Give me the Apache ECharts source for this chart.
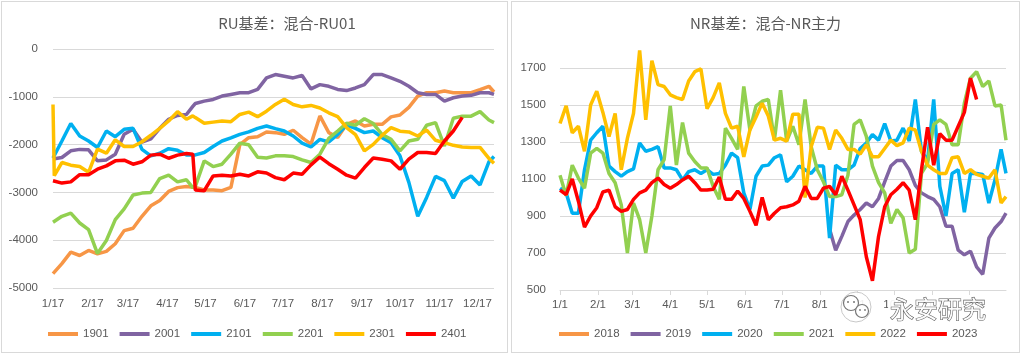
<!DOCTYPE html>
<html>
<head>
<meta charset="utf-8">
<script src="https://cdn.jsdelivr.net/npm/echarts@6/dist/echarts.min.js"></script>
<style>
  body { margin: 0; background: #fff; }
  .panel { position: absolute; top: 1px; height: 350px; border: 1px solid #d9d9d9; background: #fff; }
  #ru { left: 1px; width: 505px; }
  #nr { left: 511px; width: 507px; }
</style>
</head>
<body>
<div id="ru" class="panel"></div>
<div id="nr" class="panel"></div>
<script>
// ---- RU basis: days counted from 1/17 ----
var ruDays = [0, 1, 7, 14, 21, 28, 35, 42, 49, 56, 63, 70, 77, 84, 91, 98, 105, 110, 112, 119, 126, 133, 140, 147, 154, 161,
  168, 175, 182, 189, 196, 203, 210, 217, 224, 231, 238, 245, 252, 259, 266, 273, 280, 287, 294, 301, 308, 315, 322, 329, 336, 343, 347];
var ruTicks = [0, 31, 59, 90, 120, 151, 181, 212, 243, 273, 304, 334];
var ruTickLabels = ['1/17', '2/17', '3/17', '4/17', '5/17', '6/17', '7/17', '8/17', '9/17', '10/17', '11/17', '12/17'];
var ruNames = ['1901', '2001', '2101', '2201', '2301', '2401'];

var ru1901 = [-4700, null, -4490, -4250, -4320, -4215, -4285, -4235, -4075, -3800, -3750, -3500, -3280, -3170, -2980, -2900, -2875, -2890,
  -2895, -2950, -2950, -2965, -2895, -2000, -1855, -1835, -1735, -1750, -1785, -1700, -1855, -1990, -1400, -1750, -1850, -1575, -1505,
  -1610, -1575, -1575, -1420, -1380, -1220, -985, -915, -915, -880, -915, -915, -915, -850, -780, -900];
var ru2001 = [-2300, null, -2270, -2130, -2100, -2110, -2340, -2320, -2200, -1785, -1680, -1950, -1880, -1660, -1470, -1390, -1370, -1200,
  -1140, -1090, -1055, -985, -950, -915, -915, -845, -605, -535, -570, -605, -555, -835, -745, -780, -845, -870, -815, -745, -535, -535,
  -605, -675, -780, -915, -950, -950, -1090, -1020, -985, -970, -915, -915, -950];
var ru2101 = [-2280, null, -1925, -1560, -1820, -1925, -2060, -1715, -1835, -1680, -1660, -2100, -2235, -2180, -2085, -2120, -2215, null,
  -2215, -2165, -2040, -1925, -1860, -1785, -1735, -1660, -1610, -1665, -1715, -1820, -1970, -2050, -1890, -1945, -1785, -1590, -1660,
  -1750, -1715, -1855, -1960, -2235, -2790, -3500, -3105, -2665, -2755, -3120, -2770, -2655, -2845, -2360, -2250];
var ru2201 = [-3625, null, -3500, -3435, -3640, -3780, -4280, -4005, -3570, -3345, -3055, -3015, -3000, -2710, -2640, -2780, -2735, -2900,
  -2875, -2340, -2460, -2410, -2200, -1970, -2005, -2265, -2280, -2235, -2235, -2250, -2320, -2375, -2200, -1870, -1715, -1555, -1595,
  -1460, -1560, -1790, -1890, -2130, -1925, -1890, -1595, -1540, -2030, -1450, -1405, -1405, -1310, -1485, -1540];
var ru2301 = [-1160, -2650, -2375, -2430, -2460, -2580, -2095, -2180, -1900, -2040, -2040, -1940, -1805, -1660, -1505, -1310, -1470, -1400,
  -1435, -1555, -1530, -1505, -1520, -1370, -1320, -1415, -1300, -1160, -1050, -1160, -1210, -1180, -1235, -1335, -1415, -1645, -1790,
  -2130, -1995, -1805, -1645, -1720, -1735, -1820, -1695, -1910, -1960, -2015, -2050, -2060, -2060, -2290, -2390];
var ru2401 = [-2755, null, -2805, -2780, -2630, -2630, -2515, -2445, -2340, -2325, -2410, -2360, -2220, -2200, -2285, -2220, -2185, -2200,
  -2950, -2965, -2655, -2640, -2655, -2620, -2655, -2570, -2595, -2690, -2735, -2595, -2620, -2425, -2260, -2400, -2515, -2640, -2700,
  -2480, -2280, -2305, -2340, -2515, -2305, -2165, -2165, -2185, -1925, -1715, -1430];

// ---- NR basis: days counted from 1/1 ----
var nrDays = [0, 5, 10, 15, 20, 25, 30, 35, 40, 45, 50, 55, 60, 65, 70, 75, 80, 85, 90, 95, 100, 105, 110, 115, 120, 125, 130, 135,
  140, 145, 150, 155, 160, 165, 170, 175, 180, 185, 190, 195, 200, 205, 210, 215, 220, 225, 230, 235, 240, 245, 250, 255, 260, 265,
  270, 275, 280, 285, 290, 295, 300, 305, 310, 315, 320, 325, 330, 335, 340, 345, 350, 355, 360, 364];
var nrTicks = [0, 31, 59, 90, 120, 151, 181, 212, 243, 273, 304, 334];
var nrTickLabels = ['1/1', '2/1', '3/1', '4/1', '5/1', '6/1', '7/1', '8/1', '9/1', '10/1', '11/1', '12/1'];
var nrNames = ['2018', '2019', '2020', '2021', '2022', '2023'];

var nr2018 = [];
var nr2019 = [null, null, null, null, null, null, null, null, null, null, null, null, null, null, null, null, null, null, null, null,
  null, null, null, null, null, null, null, null, null, null, null, null, null, null, null, null, null, null, null, null, null, null,
  null, null, 830, 715, 790, 870, 905, 935, 970, 950, 995, 1085, 1170, 1200, 1200, 1150, 1065, 1025, 1005, 990, 950, 845, 845, 715, 690,
  710, 625, 585, 780, 835, 870, 915];
var nr2020 = [1050, 1025, 915, 915, 1150, 1310, 1350, 1385, 1170, 1140, 1115, 1140, 1155, 1295, 1250, 1260, 1275, 1160, 1160, 1150,
  1095, 1140, 1150, 1130, 1150, 1125, 1130, 1175, 1240, 1215, 1025, 935, 1115, 1170, 1175, 1215, 1230, 1085, 1115, 1170,
  1150, 1130, 1170, 1170, 780, 1175, 1150, 1150, 1175, 1265, 1295, 1340, 1310, 1400, 1305, 1310, 1375, 1305, 1530, 1250,
  1200, 1530, 1060, 900, 1130, 1150, 920, 1130, 1130, 1125, 970, 1095, 1260, 1130];
var nr2021 = [1120, 1010, 1175, 1105, 1050, 1240, 1265, 1240, 1130, 1080, 960, 700, 970, 880, 700, 900, 1150, 1205, 1495, 1175,
  1405, 1240, 1195, 1160, 1160, 1060, 990, 1375, 1320, 1260, 1600, 1365, 1495, 1520, 1530, 1310, 1580, 1305, 1385, 1285,
  1530, 1275, 1150, 1085, 1005, 1005, 1015, 1120, 1395, 1420, 1330, 1170, 1080, 1025, 860, 935, 890, 700, 720, 1130,
  1185, 1395, 1420, 1395, 1285, 1285, 1510, 1645, 1680, 1600, 1630, 1495, 1500, 1310];
var nr2022 = [1400, 1495, 1350, 1385, 1250, 1500, 1575, 1460, 1330, 1455, 1150, 1320, 1455, 1795, 1420, 1740, 1610, 1600, 1555, 1540,
  1530, 1630, 1680, 1695, 1480, 1540, 1620, 1455, 1375, 1385, 1220, 1365, 1435, 1510, 1440, 1310, 1320, 1305, 1450, 1450,
  1000, 1275, 1380, 1375, 1260, 1365, 1320, 1260, 1260, 1235, 1285, 1220, 1220, 1265, 1310, 1280, 1295, 1375, 1365, 1250,
  1175, 1150, 1130, 1130, 1215, 1220, 1130, 1150, 1125, 1115, 1105, 1150, 970, 1005];
var nr2023 = [1040, 1015, 1100, 980, 840, 900, 945, 1030, 1040, 950, 925, 935, 990, 1025, 1040, 1080, 1105, 1070, 1050, 1070,
  1095, 1115, 1080, 1040, 1040, 1045, 1110, 990, 990, 1035, 995, 925, 850, 1000, 880, 915, 945, 950, 960, 980,
  1060, 995, 995, 1050, 1060, 1015, 1115, 1040, 960, 880, 680, 550, 790, 950, 1015, 1045, 1080, 1040, 880, 1150,
  1380, 1175, 1345, 1310, 1310, 1385, 1460, 1645, 1530];

var colors = ['#F79646', '#8064A2', '#00B0F0', '#92D050', '#FFC000', '#FF0000'];
var txt = '#595959';
var gridCol = '#d9d9d9';
var fontNum = 'Liberation Sans, Arial, sans-serif';
var fontCjk = 'Noto Sans CJK SC, sans-serif';

// 把日期和数值配成点, 空值跳过
function toPairs(days, vals) {
  var out = [];
  for (var i = 0; i < days.length; i++) {
    if (vals[i] != null) out.push([days[i], vals[i]]);
  }
  return out;
}

function makeSeries(names, days, list) {
  return names.map(function (n, k) {
    return {
      name: n, type: 'line', data: toPairs(days, list[k]),
      showSymbol: false, symbol: 'none', clip: false,
      lineStyle: { width: 3.5, color: colors[k] },
      itemStyle: { color: colors[k] }
    };
  });
}

function legendOpt(names, left) {
  return {
    data: names, left: left, top: 326, padding: 0, icon: 'rect', itemWidth: 30, itemHeight: 4, itemGap: 11,
    textStyle: { color: txt, fontSize: 11.5, fontFamily: fontNum }
  };
}

function plainNum(v) { return String(v); }

// ---- 左图 ----
var ruChart = echarts.init(document.getElementById('ru'));
ruChart.setOption({
  animation: false,
  color: colors,
  title: {
    text: 'RU基差：混合-RU01', left: 285, top: 14, textAlign: 'center', padding: 0,
    textStyle: { color: txt, fontSize: 15, fontWeight: 'normal', fontFamily: fontCjk }
  },
  legend: legendOpt(ruNames, 46),
  grid: { left: 51, right: 13, top: 47, bottom: 64 },
  xAxis: {
    type: 'value', min: 0, max: 347,
    axisLine: { show: false }, axisTick: { show: false }, splitLine: { show: false },
    axisLabel: {
      customValues: ruTicks, margin: 10, color: txt, fontSize: 11.5, fontFamily: fontNum,
      formatter: function (v) { return ruTickLabels[ruTicks.indexOf(v)]; }
    }
  },
  yAxis: {
    type: 'value', min: -5000, max: 0, interval: 1000,
    axisLine: { show: false }, axisTick: { show: false },
    splitLine: { lineStyle: { color: gridCol, width: 1 } },
    axisLabel: { margin: 15, color: txt, fontSize: 11.5, fontFamily: fontNum, formatter: plainNum }
  },
  series: makeSeries(ruNames, ruDays, [ru1901, ru2001, ru2101, ru2201, ru2301, ru2401])
});

// ---- 右图 ----
var nrChart = echarts.init(document.getElementById('nr'));
nrChart.setOption({
  animation: false,
  color: colors,
  title: {
    text: 'NR基差：混合-NR主力', left: 'center', top: 14, padding: 0,
    textStyle: { color: txt, fontSize: 15, fontWeight: 'normal', fontFamily: fontCjk }
  },
  legend: legendOpt(nrNames, 47),
  grid: { left: 48, right: 13, top: 66, bottom: 62 },
  xAxis: {
    type: 'value', min: 0, max: 364,
    axisLine: { show: true, lineStyle: { color: gridCol } },
    axisTick: { show: true, customValues: nrTicks, length: 5, lineStyle: { color: gridCol } },
    splitLine: { show: false },
    axisLabel: {
      customValues: nrTicks, margin: 9, color: txt, fontSize: 11.5, fontFamily: fontNum,
      formatter: function (v) { return nrTickLabels[nrTicks.indexOf(v)]; }
    }
  },
  yAxis: {
    type: 'value', min: 500, max: 1700, interval: 200,
    axisLine: { show: false }, axisTick: { show: false },
    splitLine: { lineStyle: { color: gridCol, width: 1 } },
    axisLabel: { margin: 14, color: txt, fontSize: 11.5, fontFamily: fontNum, formatter: plainNum }
  },
  series: makeSeries(nrNames, nrDays, [nr2018, nr2019, nr2020, nr2021, nr2022, nr2023]),
  // 水印
  graphic: [
    { type: 'rect', shape: { x: 376, y: 294, width: 106, height: 26 }, style: { fill: 'rgba(255,255,255,0.92)' }, z: 100 },
    { type: 'circle', shape: { cx: 344, cy: 305, r: 15 }, style: { fill: 'rgba(255,255,255,0.9)', stroke: '#c8c8c8', lineWidth: 1 }, z: 100 },
    { type: 'circle', shape: { cx: 339, cy: 301, r: 7.5 }, style: { fill: '#fff', stroke: '#777', lineWidth: 1.2 }, z: 101 },
    { type: 'circle', shape: { cx: 350, cy: 309, r: 6.5 }, style: { fill: '#fff', stroke: '#777', lineWidth: 1.2 }, z: 102 },
    { type: 'circle', shape: { cx: 336, cy: 300, r: 1 }, style: { fill: '#777' }, z: 103 },
    { type: 'circle', shape: { cx: 342, cy: 300, r: 1 }, style: { fill: '#777' }, z: 103 },
    { type: 'circle', shape: { cx: 348, cy: 308, r: 0.9 }, style: { fill: '#777' }, z: 103 },
    { type: 'circle', shape: { cx: 353, cy: 308, r: 0.9 }, style: { fill: '#777' }, z: 103 },
    {
      type: 'text', x: 378, y: 307, z: 104,
      style: {
        text: '永安研究', fontSize: 24, fontFamily: fontCjk, fill: 'rgba(255,255,255,0.95)',
        stroke: '#555', lineWidth: 1.1, verticalAlign: 'middle'
      }
    }
  ]
});
</script>
</body>
</html>
